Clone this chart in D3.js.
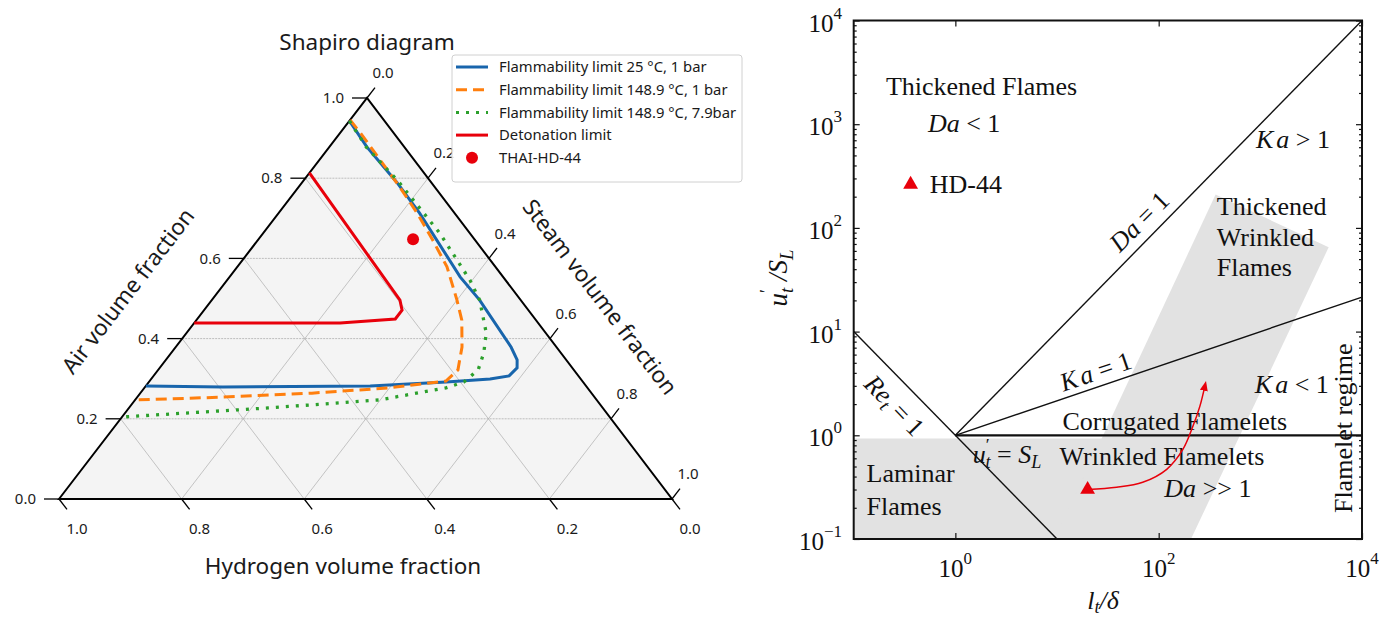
<!DOCTYPE html>
<html>
<head>
<script src="https://d3js.org/d3.v7.min.js"></script>
<style>
  body { margin: 0; background: #fff; }
  .sans { font-family: "Noto Sans", "Open Sans", sans-serif; fill: #1a1a1a; }
  .serif { font-family: "Liberation Serif", "DejaVu Serif", serif; fill: #111; }
</style>
</head>
<body>
<svg id="plt" width="1380" height="619"></svg>
<script>
// ---- left: Shapiro diagram, points are [steam, air], hydrogen = 1 - steam - air
const flam25 = [[0,0.943],[0.061,0.878],[0.154,0.79],[0.23,0.713],[0.376,0.554],[0.437,0.496],[0.547,0.379],
                [0.573,0.347],[0.583,0.327],[0.58,0.307],[0.553,0.299],[0.485,0.292],[0.366,0.282],[0.127,0.279],[0,0.282]];
const flam149 = [[0,0.945],[0.031,0.915],[0.165,0.778],[0.226,0.713],[0.285,0.646],[0.342,0.579],[0.4,0.496],
                 [0.433,0.446],[0.467,0.379],[0.489,0.322],[0.4835,0.294],[0.398,0.277],[0.28,0.264],[0.14,0.254],[0,0.247]];
const flam149p = [[0,0.943],[0.06,0.878],[0.1545,0.793],[0.288,0.663],[0.396,0.546],[0.437,0.496],[0.489,0.414],
                  [0.51,0.364],[0.522,0.322],[0.514,0.292],[0.492,0.277],[0.398,0.247],[0.227,0.227],[0,0.2045]];
const deton = [[0,0.813],[0.307,0.496],[0.323,0.471],[0.323,0.449],[0.238,0.439],[0,0.439]];
const thaiPoint = [0.252, 0.648];
const ternTicks = [0, 0.2, 0.4, 0.6, 0.8, 1.0];
const legendNames = ['Flammability limit 25 \u00b0C, 1 bar', 'Flammability limit 148.9 \u00b0C, 1 bar',
                     'Flammability limit 148.9 \u00b0C, 7.9bar', 'Detonation limit', 'THAI-HD-44'];

// ---- right: regime diagram (log-log)
const daLine = [[1,1],[1e4,1e4]];
const kaLine = [[1,1],[1e4,21.54]];
const slLine = [[1,1],[1e4,1]];
const reLine = [[0.1,10],[10,0.1]];
const laminarBox = [[0.1,0.1],[0.1,0.93],[30,0.93],[30,0.1]];
const wrinkledBand = [[363,210],[4700,65],[208,0.1],[9.5,0.1]];
const arrowPath = [[20,0.3],[38.6,0.315],[69.7,0.352],[120,0.47],[173,0.73],[217,1.22],[254,1.9],[285,3.0]];
const hd44 = [0.363, 263];
const yMajor = [0.1, 1, 10, 100, 1000, 10000];
const xMajor = [1, 100, 10000];

const svg = d3.select('#plt');
const blue = '#1865ac', orange = '#ff7f0e', green = '#2ca02c', red = '#e8000b';

// ternary projection
const T = {bl:[59,499], top:[367,98], br:[672,499]};
const yAir = d3.scaleLinear().domain([0,1]).range([T.bl[1], T.top[1]]);
const xSteam = d3.scaleLinear().domain([0,1]).range([T.bl[0], T.br[0]]);
const proj = (s, a) => [xSteam(s) + (T.top[0] - T.bl[0]) * a, yAir(a)];

const left = svg.append('g');
left.append('polygon').attr('points', [proj(0,0), proj(0,1), proj(1,0)].join(' '))
    .attr('fill', '#f4f4f4');

// grid
const grid = left.append('g');
ternTicks.slice(1, 5).forEach(v => {
  // constant air
  let p = proj(0, v), q = proj(1 - v, v);
  grid.append('line').attr('x1',p[0]).attr('y1',p[1]).attr('x2',q[0]).attr('y2',q[1])
      .attr('stroke','#bdbdbd').attr('stroke-width',1).attr('stroke-dasharray','2,1');
  // constant steam
  p = proj(v, 1 - v); q = proj(v, 0);
  grid.append('line').attr('x1',p[0]).attr('y1',p[1]).attr('x2',q[0]).attr('y2',q[1])
      .attr('stroke','#adadad').attr('stroke-width',0.7);
  // constant hydrogen
  p = proj(1 - v, 0); q = proj(0, 1 - v);
  grid.append('line').attr('x1',p[0]).attr('y1',p[1]).attr('x2',q[0]).attr('y2',q[1])
      .attr('stroke','#adadad').attr('stroke-width',0.7);
});

left.append('polygon').attr('points', [proj(0,0), proj(0,1), proj(1,0)].join(' '))
    .attr('fill', 'none').attr('stroke', '#000').attr('stroke-width', 2);

// ticks + labels
ternTicks.forEach(v => {
  const lab = v.toFixed(1);
  let p = proj(0, v);
  left.append('line').attr('x1',p[0]-15).attr('y1',p[1]).attr('x2',p[0]).attr('y2',p[1]).attr('stroke','#000').attr('stroke-width',1.3);
  left.append('text').attr('class','sans').attr('x',p[0]-23).attr('y',p[1]).attr('dy','0.35em')
      .attr('text-anchor','end').attr('font-size',15).text(lab);
  p = proj(v, 1 - v);
  left.append('line').attr('x1',p[0]).attr('y1',p[1]).attr('x2',p[0]+8).attr('y2',p[1]-10.4).attr('stroke','#000').attr('stroke-width',1.3);
  left.append('text').attr('class','sans').attr('x',p[0]+16).attr('y',p[1]-25).attr('dy','0.35em')
      .attr('text-anchor','middle').attr('font-size',15).text(lab);
  p = proj(1 - v, 0);
  left.append('line').attr('x1',p[0]).attr('y1',p[1]).attr('x2',p[0]+8).attr('y2',p[1]+10.4).attr('stroke','#000').attr('stroke-width',1.3);
  left.append('text').attr('class','sans').attr('x',p[0]+18).attr('y',p[1]+30).attr('dy','0.35em')
      .attr('text-anchor','middle').attr('font-size',15).text(lab);
});

// curves
const tline = d3.line().x(d => proj(d[0], d[1])[0]).y(d => proj(d[0], d[1])[1]);
left.append('path').attr('d', tline(deton)).attr('fill','none').attr('stroke',red).attr('stroke-width',3);
left.append('path').attr('d', tline(flam25)).attr('fill','none').attr('stroke',blue).attr('stroke-width',3);
left.append('path').attr('d', tline(flam149)).attr('fill','none').attr('stroke',orange).attr('stroke-width',3)
    .attr('stroke-dasharray','11,6');
left.append('path').attr('d', tline(flam149p)).attr('fill','none').attr('stroke',green).attr('stroke-width',3.3)
    .attr('stroke-dasharray','3,7');
const tp = proj(thaiPoint[0], thaiPoint[1]);
left.append('circle').attr('cx',tp[0]).attr('cy',tp[1]).attr('r',6).attr('fill',red);

// titles
left.append('text').attr('class','sans').attr('x',367).attr('y',42).attr('dy','0.35em')
    .attr('text-anchor','middle').attr('font-size',22.5).text('Shapiro diagram');
left.append('text').attr('class','sans').attr('x',343).attr('y',566).attr('dy','0.35em')
    .attr('text-anchor','middle').attr('font-size',22.5).text('Hydrogen volume fraction');
left.append('text').attr('class','sans').attr('transform','translate(128,291) rotate(-52.5)').attr('dy','0.35em')
    .attr('text-anchor','middle').attr('font-size',22.5).text('Air volume fraction');
left.append('text').attr('class','sans').attr('transform','translate(600,297) rotate(52.7)').attr('dy','0.35em')
    .attr('text-anchor','middle').attr('font-size',22.5).text('Steam volume fraction');

// legend
const leg = left.append('g');
leg.append('rect').attr('x',452).attr('y',55).attr('width',290).attr('height',127).attr('rx',3)
   .attr('fill','#fff').attr('fill-opacity',0.9).attr('stroke','#d0d0d0');
const legStyle = [[blue,null],[orange,'11,6'],[green,'3,7'],[red,null]];
legendNames.forEach((name, i) => {
  const yy = 67 + i * 22.7;
  if (i < 4) {
    leg.append('line').attr('x1',456).attr('x2',488).attr('y1',yy).attr('y2',yy)
       .attr('stroke',legStyle[i][0]).attr('stroke-width',3).attr('stroke-dasharray',legStyle[i][1]);
  } else {
    leg.append('circle').attr('cx',472).attr('cy',yy).attr('r',6).attr('fill',red);
  }
  leg.append('text').attr('class','sans').attr('x',499).attr('y',yy).attr('dy','0.35em')
     .attr('font-size',14.8).text(name);
});

// ---------------- right chart
const x = d3.scaleLog().domain([0.1, 1e4]).range([853.7, 1362]);
const y = d3.scaleLog().domain([0.1, 1e4]).range([539, 20.5]);
const right = svg.append('g');
const lg = d3.line().x(d => x(d[0])).y(d => y(d[1]));

right.append('path').attr('d', lg(laminarBox) + 'Z').attr('fill','#e2e2e2');
right.append('path').attr('d', lg(wrinkledBand) + 'Z').attr('fill','#e2e2e2');

[daLine, kaLine, reLine].forEach(l => right.append('path').attr('d', lg(l)).attr('fill','none')
   .attr('stroke','#111').attr('stroke-width',1.4));
right.append('path').attr('d', lg(slLine)).attr('stroke','#111').attr('stroke-width',2.2);

// axes
const yMinor = [];
yMajor.slice(0, 5).forEach(d => { for (let k = 2; k <= 9; k++) yMinor.push(d * k); });
right.append('g').attr('transform','translate(853.7,0)')
  .call(d3.axisLeft(y).tickValues(yMajor).tickSize(-6).tickFormat(''));
right.append('g').attr('transform','translate(853.7,0)')
  .call(d3.axisLeft(y).tickValues(yMinor).tickSize(-3).tickFormat(''));
right.append('g').attr('transform','translate(1362,0)')
  .call(d3.axisRight(y).tickValues(yMajor).tickSize(-6).tickFormat(''));
right.append('g').attr('transform','translate(1362,0)')
  .call(d3.axisRight(y).tickValues(yMinor).tickSize(-3).tickFormat(''));
right.append('g').attr('transform','translate(0,539)')
  .call(d3.axisBottom(x).tickValues(xMajor).tickSize(-6).tickFormat(''));
right.append('g').attr('transform','translate(0,20.5)')
  .call(d3.axisTop(x).tickValues(xMajor).tickSize(-6).tickFormat(''));
right.selectAll('.domain').remove();
right.selectAll('.tick line').attr('stroke','#111').attr('stroke-width',1.2);
right.append('rect').attr('x',853.7).attr('y',20.5).attr('width',1362-853.7).attr('height',539-20.5)
  .attr('fill','none').attr('stroke','#111').attr('stroke-width',2);

function rich(g, px, py, parts, size, anchor, rot) {
  const t = g.append('text').attr('class','serif').attr('x',px).attr('y',py)
    .attr('font-size',size).attr('text-anchor',anchor || 'start').attr('dominant-baseline','central');
  if (rot) t.attr('transform', `rotate(${rot},${px},${py})`);
  let shift = 0;
  parts.forEach(p => {
    const kind = p[1] || '';
    let target = 0, fs = null;
    if (kind.includes('sub')) { target = size * 0.28; fs = size * 0.7; }
    if (kind.includes('sup')) { target = -size * 0.4; fs = size * 0.68; }
    const ts = t.append('tspan').text(p[0]).attr('dy', target - shift);
    if (p[2]) ts.attr('dx', p[2]);
    if (fs) ts.attr('font-size', fs);
    if (kind.startsWith('i')) ts.attr('font-style','italic');
    shift = target;
  });
  return t;
}

// tick labels
yMajor.forEach(v => {
  const e = Math.round(Math.log10(v));
  rich(right, 842, y(v) + 2, [['10'], [e < 0 ? '\u22121' : String(e), 'sup']], 25, 'end');
});
xMajor.forEach(v => {
  const e = Math.round(Math.log10(v));
  rich(right, x(v), 568, [['10'], [String(e), 'sup']], 25, 'middle');
});

// axis titles
rich(right, 778, 278, [['u','i'],['\u2032','sup'],['t','isub',-4],[' /','i'],['S','i'],['L','isub']], 27, 'middle', -90);
rich(right, 1103, 600, [['l','i'],['t','isub'],['/\u03b4','i']], 26, 'middle');

// annotations (data coordinates)
const notes = [
  [1.81, 2318, [['Thickened Flames']], 'middle', 0],
  [1.22, 1020, [['Da','i'],[' < 1']], 'middle', 0],
  [0.56, 263, [['HD-44']], 'start', 0],
  [64, 116, [['Da','i'],[' = 1']], 'middle', -45],
  [2090, 715, [['K','i'],['a','i',3],[' > 1']], 'middle', 0],
  [373, 161, [['Thickened']], 'start', 0],
  [373, 81, [['Wrinkled']], 'start', 0],
  [373, 41.7, [['Flames']], 'start', 0],
  [24, 4.14, [['K','i'],['a','i',3],[' = 1']], 'middle', -19],
  [2040, 3.1, [['K','i'],['a','i',3],[' < 1']], 'middle', 0],
  [144, 1.36, [['Corrugated Flamelets']], 'middle', 0],
  [1.48, 0.656, [['u','i'],['\u2032','sup'],['t','isub',-4],['  = '],['S','i'],['L','isub']], 'start', 0],
  [10.6, 0.63, [['Wrinkled Flamelets']], 'start', 0],
  [305, 0.308, [['Da','i'],[' >> 1']], 'middle', 0],
  [0.134, 0.43, [['Laminar']], 'start', 0],
  [0.134, 0.206, [['Flames']], 'start', 0],
  [0.253, 1.95, [['Re','i'],['t','isub'],[' = 1']], 'middle', 46],
  [6500, 1.17, [['Flamelet regime']], 'middle', -90]
];
notes.forEach(n => rich(right, x(n[0]), y(n[1]), n[2], 26, n[3], n[4]));

// markers
const tri = d3.symbol().type(d3.symbolTriangle).size(95);
right.append('path').attr('d', tri()).attr('fill', red)
  .attr('transform', `translate(${x(hd44[0])},${y(hd44[1])})`);
svg.append('defs').append('marker').attr('id','ah').attr('viewBox','0 0 10 10')
  .attr('refX',5).attr('refY',5).attr('markerWidth',10).attr('markerHeight',10)
  .attr('markerUnits','userSpaceOnUse').attr('orient','auto')
  .append('path').attr('d','M0,1 L10,5 L0,9 Z').attr('fill',red);
right.append('path').attr('d', d3.line().x(d => x(d[0])).y(d => y(d[1])).curve(d3.curveCatmullRom)(arrowPath))
  .attr('fill','none').attr('stroke',red).attr('stroke-width',1.5).attr('marker-end','url(#ah)');
right.append('path').attr('d', tri()).attr('fill', red)
  .attr('transform', `translate(${x(arrowPath[0][0])},${y(arrowPath[0][1])})`);
</script>
</body>
</html>
